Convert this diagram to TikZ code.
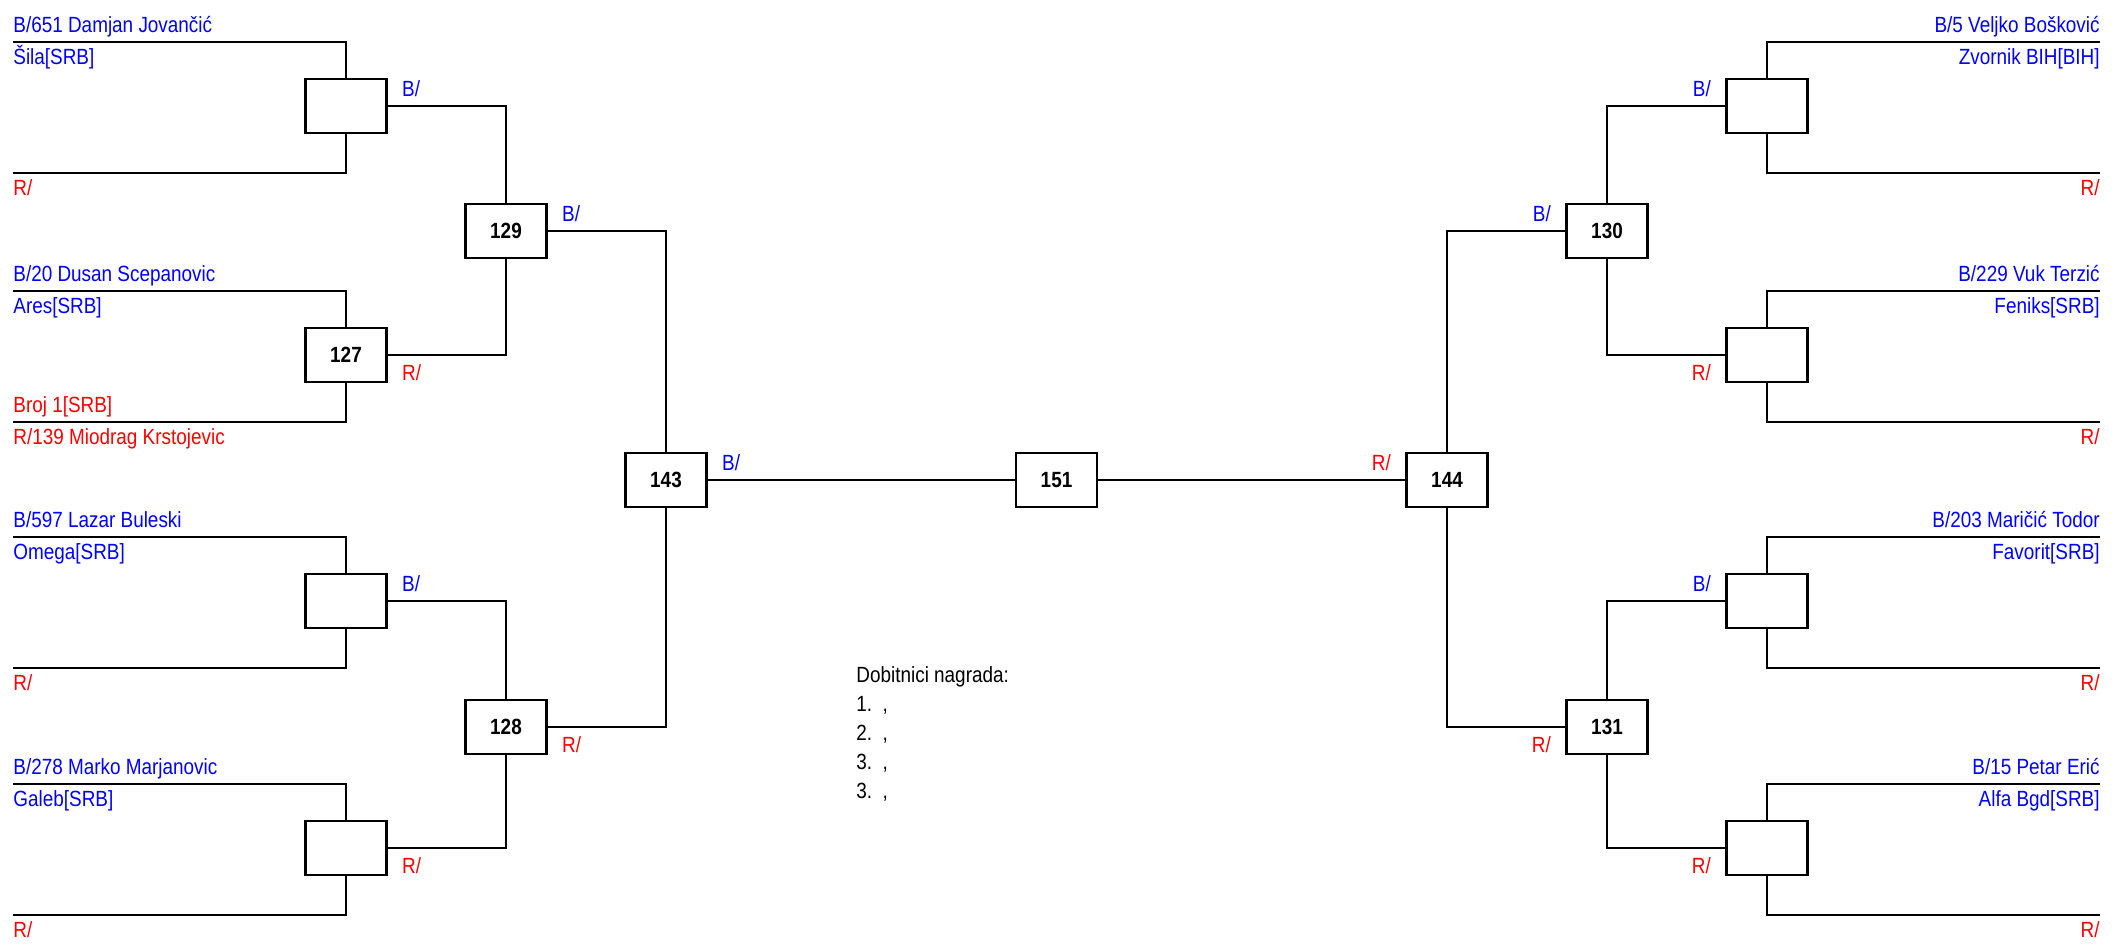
\documentclass[tikz,border=0pt]{standalone}
\usepackage{fontspec}
\setmainfont{Liberation Sans}[FakeStretch=0.86]
\usepackage{tikz}
\usetikzlibrary{positioning,calc}
\definecolor{tbBlue}{HTML}{0000FF}
\definecolor{tbRed}{HTML}{FF0000}
\tikzset{
  tbmatch/.style={
    draw, line width=1.3pt, minimum width=40.5pt, minimum height=27pt,
    inner sep=0pt, font=\fontsize{11}{12}\selectfont\bfseries
  },
  tbline/.style={line width=1.2pt, black},
  tbtext/.style={font=\fontsize{11}{12}\selectfont, inner sep=0pt},
  bluetag/.style={tbtext, text=tbBlue},
  redtag/.style={tbtext, text=tbRed},
  prize/.style={tbtext, text=black, anchor=base west}
}

\begin{document}
\begin{tikzpicture}[x=0.5pt, y=-0.5pt]
  \useasboundingbox (0,0) rectangle (2113,952);
  % first round, both sides
  \foreach \i/\y in {1/42, 2/291, 3/537, 4/784}{
    \coordinate (lt\i) at (13,\y);
    \coordinate (lb\i) at (13,{\y+131});
    \coordinate (rt\i) at (2100,\y);
    \coordinate (rb\i) at (2100,{\y+131});
  }
  \node[tbmatch] (l1) at (346,106) {};
  \node[tbmatch] (l2) at (346,355) {127};
  \node[tbmatch] (l3) at (346,601) {};
  \node[tbmatch] (l4) at (346,848) {};
  \node[tbmatch] (r1) at (1767,106) {};
  \node[tbmatch] (r2) at (1767,355) {};
  \node[tbmatch] (r3) at (1767,601) {};
  \node[tbmatch] (r4) at (1767,848) {};
  % later rounds
  \node[tbmatch] (m129) at (506,231) {129};
  \node[tbmatch] (m128) at (506,727) {128};
  \node[tbmatch] (m143) at (666,480) {143};
  \node[tbmatch] (m151) at (1056.5,480) {151};
  \node[tbmatch] (m144) at (1447,480) {144};
  \node[tbmatch] (m130) at (1607,231) {130};
  \node[tbmatch] (m131) at (1607,727) {131};

  \foreach \i in {1,...,4}{
    \draw[tbline] (lt\i) -| (l\i.north);
    \draw[tbline] (lb\i) -| (l\i.south);
    \draw[tbline] (rt\i) -| (r\i.north);
    \draw[tbline] (rb\i) -| (r\i.south);
  }
  \foreach \s/\e in {l1/m129, l3/m128, m129/m143}{\draw[tbline] (\s.east) -| (\e.north);}
  \foreach \s/\e in {l2/m129, l4/m128, m128/m143}{\draw[tbline] (\s.east) -| (\e.south);}
  \foreach \s/\e in {r1/m130, r3/m131, m130/m144}{\draw[tbline] (\s.west) -| (\e.north);}
  \foreach \s/\e in {r2/m130, r4/m131, m131/m144}{\draw[tbline] (\s.west) -| (\e.south);}
  \draw[tbline] (m143) -- (m151);
  \draw[tbline] (m151) -- (m144);

  % winner tags
  \foreach \n in {l1, l3, m129, m143}{\node[bluetag, anchor=base west] at ([shift={(14,-9.5)}]\n.east) {B/};}
  \foreach \n in {l2, l4, m128}{\node[redtag, anchor=base west] at ([shift={(14,25)}]\n.east) {R/};}
  \foreach \n in {r1, r3, m130}{\node[bluetag, anchor=base east] at ([shift={(-14,-9.5)}]\n.west) {B/};}
  \foreach \n in {r2, r4, m131}{\node[redtag, anchor=base east] at ([shift={(-14,25)}]\n.west) {R/};}
  \node[redtag, anchor=base east] at ([shift={(-14,-9.5)}]m144.west) {R/};

  % players
  \foreach \i/\nm/\cl in {1/651 Damjan Jovančić/Šila[SRB], 2/20 Dusan Scepanovic/Ares[SRB],
                          3/597 Lazar Buleski/Omega[SRB], 4/278 Marko Marjanovic/Galeb[SRB]}{
    \node[bluetag, anchor=base west] at ([shift={(0,-9.5)}]lt\i) {B/\nm};
    \node[bluetag, anchor=base west] at ([shift={(0,22.5)}]lt\i) {\cl};
  }
  \foreach \i/\nm/\cl in {1/5 Veljko Bošković/Zvornik BIH[BIH], 2/229 Vuk Terzić/Feniks[SRB],
                          3/203 Maričić Todor/Favorit[SRB], 4/15 Petar Erić/Alfa Bgd[SRB]}{
    \node[bluetag, anchor=base east] at ([shift={(0,-9.5)}]rt\i) {B/\nm};
    \node[bluetag, anchor=base east] at ([shift={(0,22.5)}]rt\i) {\cl};
    \node[redtag, anchor=base east] at ([shift={(0,22.5)}]rb\i) {R/};
  }
  \foreach \i in {1,3,4}{\node[redtag, anchor=base west] at ([shift={(0,22.5)}]lb\i) {R/};}
  \node[redtag, anchor=base west] at ([shift={(0,-9.5)}]lb2) {Broj 1[SRB]};
  \node[redtag, anchor=base west] at ([shift={(0,22.5)}]lb2) {R/139 Miodrag Krstojevic};

  % prizes
  \foreach \t [count=\k from 0] in {Dobitnici nagrada:, {1.\ \ ,}, {2.\ \ ,}, {3.\ \ ,}, {3.\ \ ,}}{
    \node[prize] (prize\k) at (856,{682+29*\k}) {\t};
  }
\end{tikzpicture}
\end{document}
